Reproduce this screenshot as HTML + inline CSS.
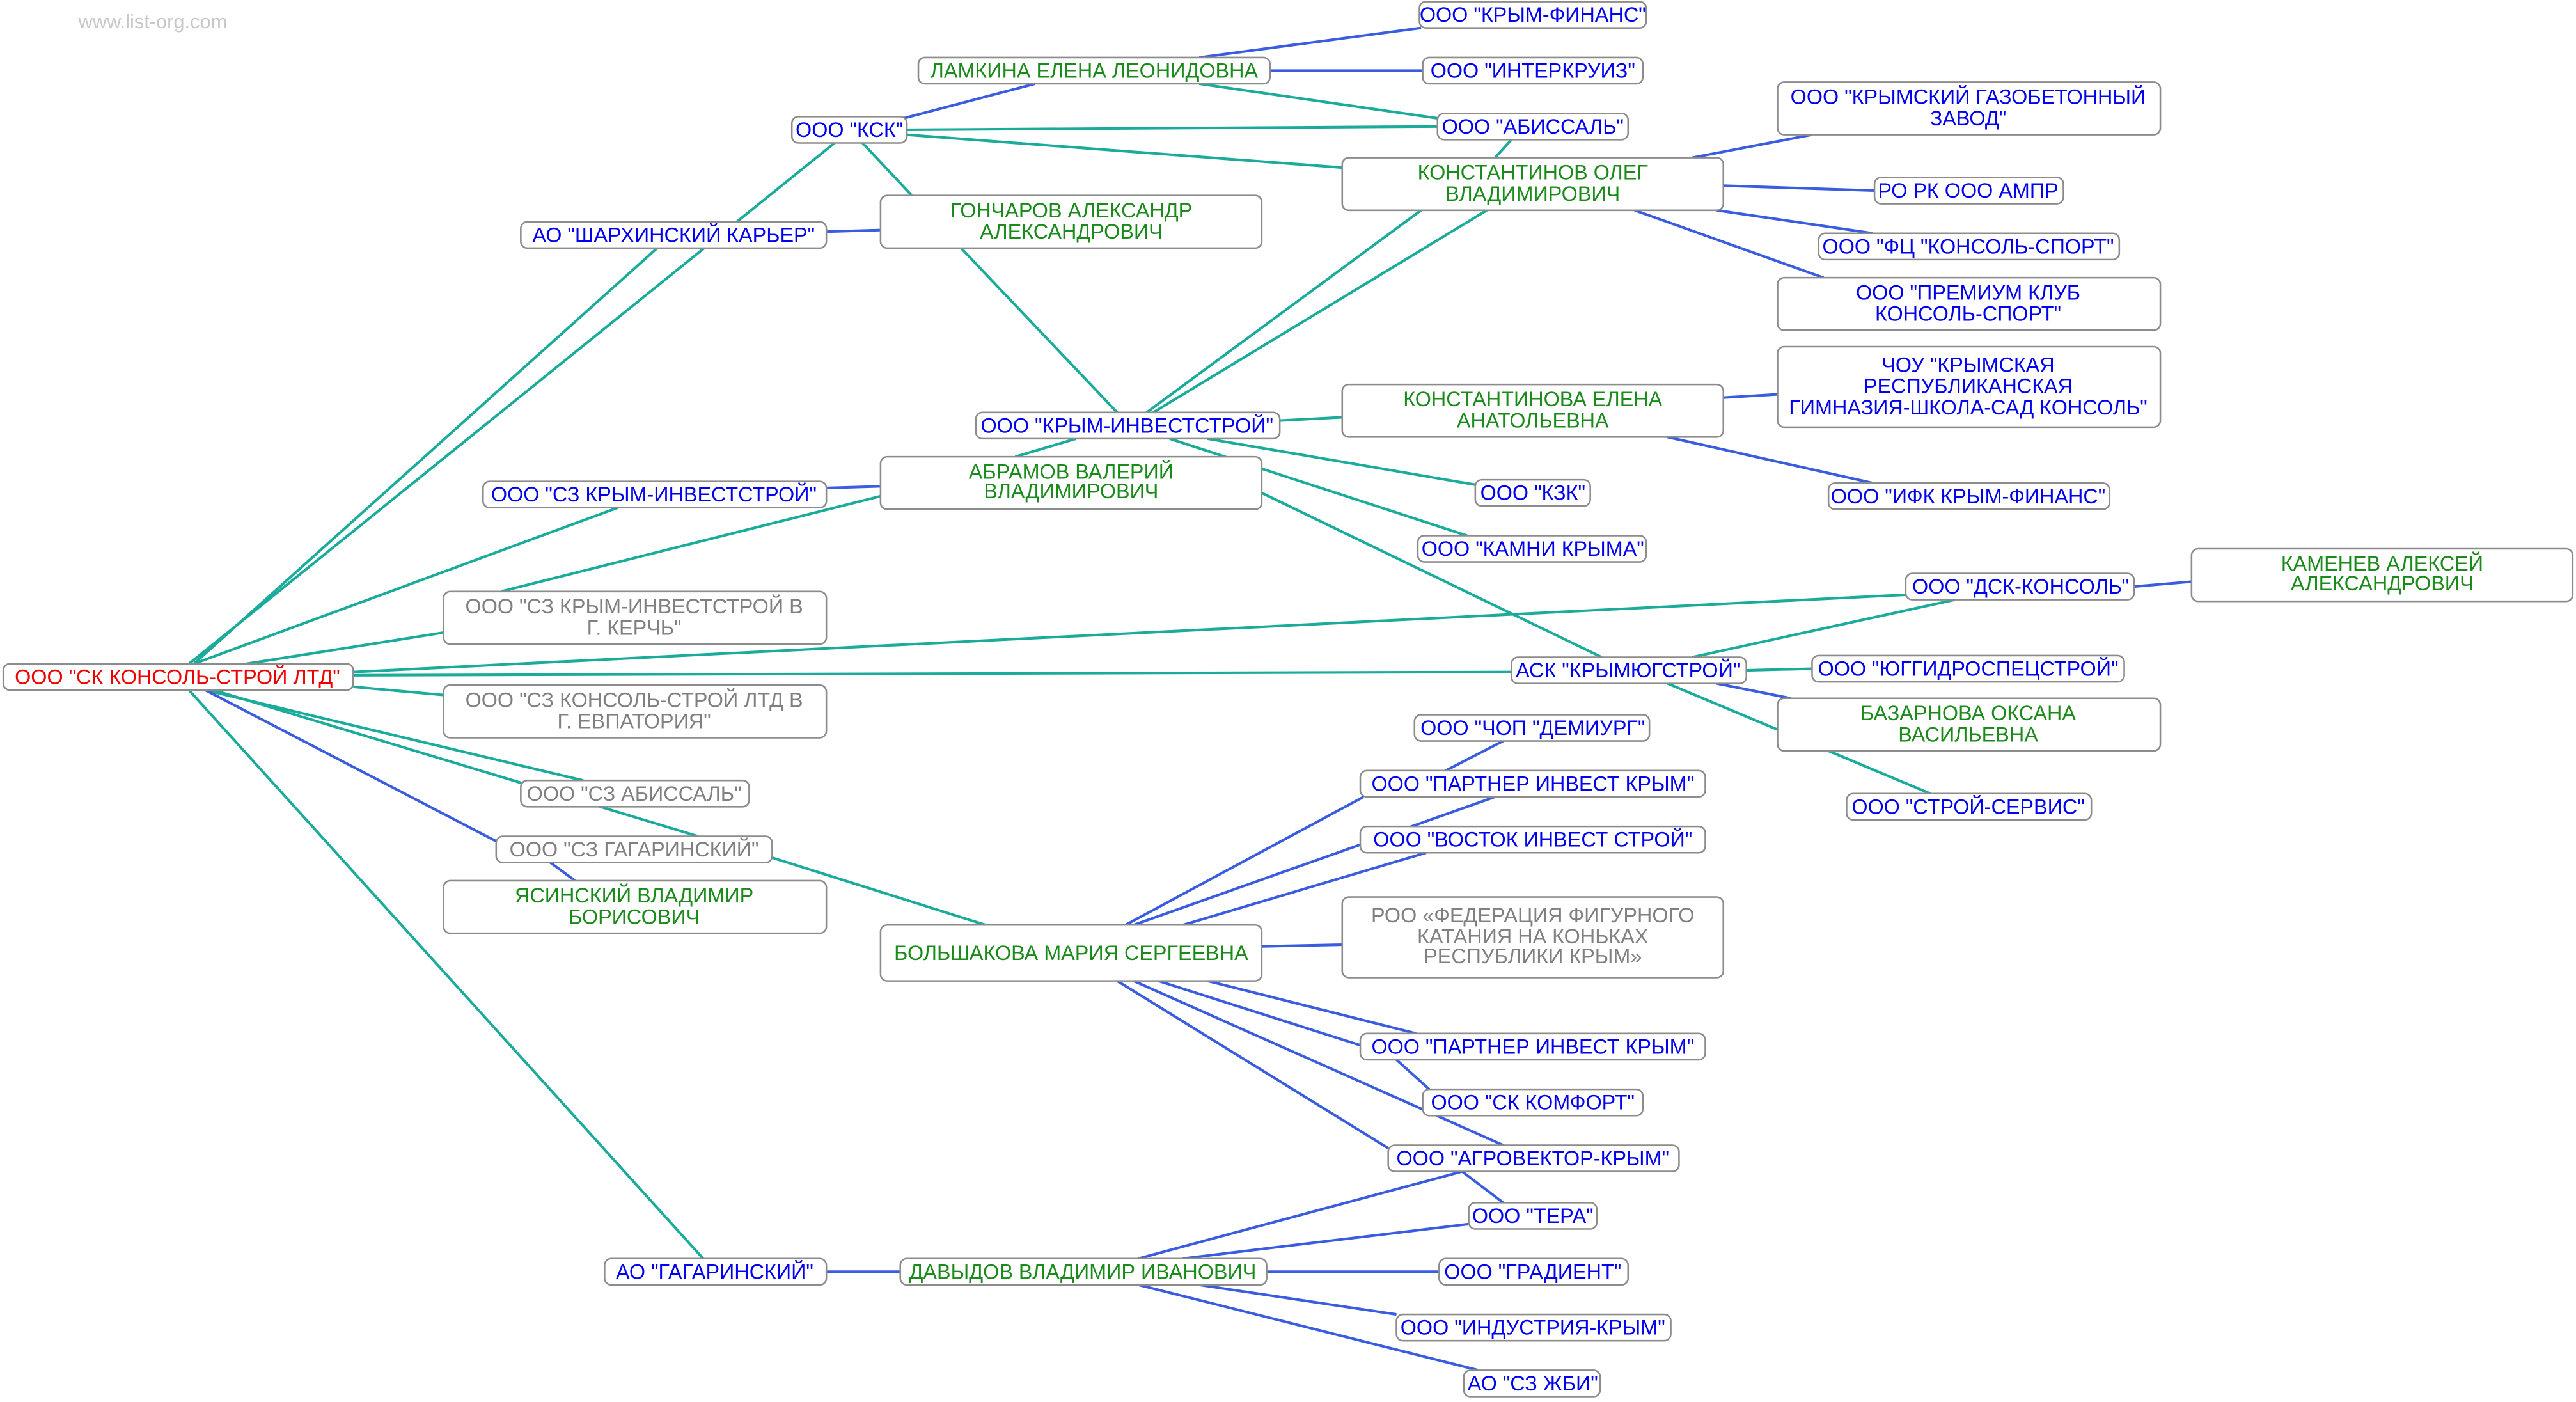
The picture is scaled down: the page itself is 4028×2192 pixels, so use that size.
<!DOCTYPE html>
<html><head><meta charset="utf-8"><style>
html,body{margin:0;padding:0;background:#fff}
svg{display:block}
text{font-family:"Liberation Sans",sans-serif;font-size:12.6px;text-anchor:middle;dominant-baseline:central}
.t{stroke:#1aab9b;stroke-width:1.6;fill:none}
.b{stroke:#3a5de0;stroke-width:1.6;fill:none}
rect{fill:#fff;stroke:#8c8c8c;stroke-width:1}
.g{fill:#1a8a1a}.u{fill:#0000ee}.r{fill:#ee0000}.y{fill:#808080}
</style></head><body>
<svg width="4028" height="2192" viewBox="0 0 1568 853.3" xmlns="http://www.w3.org/2000/svg">
<text x="93" y="13" style="fill:#c8c8c8;font-size:12px">www.list-org.com</text>
<g>
<line class="b" x1="730" y1="35" x2="865" y2="17"/>
<line class="b" x1="773" y1="43" x2="866" y2="43"/>
<line class="b" x1="550" y1="72" x2="630" y2="51"/>
<line class="t" x1="730" y1="51" x2="875" y2="72"/>
<line class="t" x1="552" y1="79" x2="875" y2="77"/>
<line class="t" x1="552" y1="82" x2="817" y2="102"/>
<line class="t" x1="920" y1="85" x2="910" y2="96"/>
<line class="b" x1="1030" y1="96" x2="1103" y2="82"/>
<line class="b" x1="1049" y1="113" x2="1141" y2="116"/>
<line class="b" x1="1045" y1="128" x2="1140" y2="142"/>
<line class="b" x1="995" y1="128" x2="1110" y2="169"/>
<line class="b" x1="503" y1="141" x2="536" y2="140"/>
<line class="t" x1="115" y1="404" x2="508" y2="87"/>
<line class="t" x1="118" y1="404" x2="400" y2="151"/>
<line class="t" x1="525" y1="87" x2="555" y2="119"/>
<line class="t" x1="585" y1="151" x2="680" y2="251"/>
<line class="t" x1="698" y1="251" x2="865" y2="128"/>
<line class="t" x1="702" y1="251" x2="905" y2="128"/>
<line class="t" x1="779" y1="256" x2="817" y2="254"/>
<line class="b" x1="1049" y1="242" x2="1082" y2="240"/>
<line class="b" x1="1015" y1="266" x2="1140" y2="294"/>
<line class="t" x1="655" y1="267" x2="618" y2="278"/>
<line class="t" x1="735" y1="267" x2="898" y2="295"/>
<line class="t" x1="712" y1="267" x2="893" y2="326"/>
<line class="t" x1="768" y1="300" x2="975" y2="400"/>
<line class="b" x1="503" y1="297" x2="536" y2="296"/>
<line class="t" x1="118" y1="404" x2="376" y2="309"/>
<line class="t" x1="305" y1="360" x2="536" y2="302"/>
<line class="t" x1="150" y1="404" x2="270" y2="385"/>
<line class="t" x1="215" y1="409" x2="1160" y2="362"/>
<line class="b" x1="1299" y1="357" x2="1334" y2="354"/>
<line class="t" x1="215" y1="411" x2="920" y2="409"/>
<line class="t" x1="1030" y1="400" x2="1190" y2="365"/>
<line class="t" x1="1063" y1="408" x2="1103" y2="407"/>
<line class="b" x1="1045" y1="416" x2="1090" y2="425"/>
<line class="t" x1="1015" y1="416" x2="1175" y2="483"/>
<line class="t" x1="215" y1="418" x2="270" y2="423"/>
<line class="t" x1="125" y1="420" x2="355" y2="475"/>
<line class="b" x1="125" y1="420" x2="302" y2="512"/>
<line class="t" x1="130" y1="420" x2="425" y2="509"/>
<line class="t" x1="470" y1="522" x2="600" y2="563"/>
<line class="b" x1="335" y1="525" x2="350" y2="536"/>
<line class="t" x1="115" y1="420" x2="428" y2="766"/>
<line class="b" x1="503" y1="774" x2="548" y2="774"/>
<line class="b" x1="915" y1="451" x2="880" y2="469"/>
<line class="b" x1="685" y1="563" x2="830" y2="485"/>
<line class="b" x1="690" y1="563" x2="910" y2="485"/>
<line class="b" x1="720" y1="563" x2="868" y2="519"/>
<line class="b" x1="768" y1="576" x2="817" y2="575"/>
<line class="b" x1="735" y1="597" x2="862" y2="629"/>
<line class="b" x1="705" y1="597" x2="840" y2="640"/>
<line class="b" x1="850" y1="645" x2="870" y2="663"/>
<line class="b" x1="690" y1="597" x2="915" y2="697"/>
<line class="b" x1="680" y1="597" x2="855" y2="705"/>
<line class="b" x1="890" y1="713" x2="693" y2="766"/>
<line class="b" x1="890" y1="713" x2="915" y2="732"/>
<line class="b" x1="720" y1="766" x2="894" y2="745"/>
<line class="b" x1="771" y1="774" x2="876" y2="774"/>
<line class="b" x1="730" y1="782" x2="850" y2="800"/>
<line class="b" x1="693" y1="782" x2="900" y2="834"/>
</g>
<g>
<rect x="864" y="1" width="138" height="16" rx="4"/><text class="u" x="933" y="9">ООО "КРЫМ-ФИНАНС"</text>
<rect x="559" y="35" width="214" height="16" rx="4"/><text class="g" x="666" y="43">ЛАМКИНА ЕЛЕНА ЛЕОНИДОВНА</text>
<rect x="866" y="35" width="134" height="16" rx="4"/><text class="u" x="933" y="43">ООО "ИНТЕРКРУИЗ"</text>
<rect x="482" y="71" width="70" height="16" rx="4"/><text class="u" x="517" y="79">ООО "КСК"</text>
<rect x="875" y="69" width="116" height="16" rx="4"/><text class="u" x="933" y="77">ООО "АБИССАЛЬ"</text>
<rect x="1082" y="50" width="233" height="32" rx="4"/><text class="u" x="1198" y="59">ООО "КРЫМСКИЙ ГАЗОБЕТОННЫЙ</text><text class="u" x="1198" y="72">ЗАВОД"</text>
<rect x="817" y="96" width="232" height="32" rx="4"/><text class="g" x="933" y="105">КОНСТАНТИНОВ ОЛЕГ</text><text class="g" x="933" y="118">ВЛАДИМИРОВИЧ</text>
<rect x="1141" y="108" width="115" height="16" rx="4"/><text class="u" x="1198" y="116">РО РК ООО АМПР</text>
<rect x="317" y="135" width="186" height="16" rx="4"/><text class="u" x="410" y="143">АО "ШАРХИНСКИЙ КАРЬЕР"</text>
<rect x="536" y="119" width="232" height="32" rx="4"/><text class="g" x="652" y="128">ГОНЧАРОВ АЛЕКСАНДР</text><text class="g" x="652" y="141">АЛЕКСАНДРОВИЧ</text>
<rect x="1107" y="142" width="183" height="16" rx="4"/><text class="u" x="1198" y="150">ООО "ФЦ "КОНСОЛЬ-СПОРТ"</text>
<rect x="1082" y="169" width="233" height="32" rx="4"/><text class="u" x="1198" y="178">ООО "ПРЕМИУМ КЛУБ</text><text class="u" x="1198" y="191">КОНСОЛЬ-СПОРТ"</text>
<rect x="1082" y="211" width="233" height="49" rx="4"/><text class="u" x="1198" y="222">ЧОУ "КРЫМСКАЯ</text><text class="u" x="1198" y="235">РЕСПУБЛИКАНСКАЯ</text><text class="u" x="1198" y="248">ГИМНАЗИЯ-ШКОЛА-САД КОНСОЛЬ"</text>
<rect x="817" y="234" width="232" height="32" rx="4"/><text class="g" x="933" y="243">КОНСТАНТИНОВА ЕЛЕНА</text><text class="g" x="933" y="256">АНАТОЛЬЕВНА</text>
<rect x="594" y="251" width="185" height="16" rx="4"/><text class="u" x="686" y="259">ООО "КРЫМ-ИНВЕСТСТРОЙ"</text>
<rect x="536" y="278" width="232" height="32" rx="4"/><text class="g" x="652" y="287">АБРАМОВ ВАЛЕРИЙ</text><text class="g" x="652" y="299">ВЛАДИМИРОВИЧ</text>
<rect x="294" y="293" width="209" height="16" rx="4"/><text class="u" x="398" y="301">ООО "СЗ КРЫМ-ИНВЕСТСТРОЙ"</text>
<rect x="898" y="292" width="70" height="16" rx="4"/><text class="u" x="933" y="300">ООО "КЗК"</text>
<rect x="1113" y="294" width="171" height="16" rx="4"/><text class="u" x="1198" y="302">ООО "ИФК КРЫМ-ФИНАНС"</text>
<rect x="863" y="326" width="139" height="16" rx="4"/><text class="u" x="933" y="334">ООО "КАМНИ КРЫМА"</text>
<rect x="1334" y="334" width="232" height="32" rx="4"/><text class="g" x="1450" y="343">КАМЕНЕВ АЛЕКСЕЙ</text><text class="g" x="1450" y="355">АЛЕКСАНДРОВИЧ</text>
<rect x="1160" y="349" width="139" height="16" rx="4"/><text class="u" x="1230" y="357">ООО "ДСК-КОНСОЛЬ"</text>
<rect x="270" y="360" width="233" height="32" rx="4"/><text class="y" x="386" y="369">ООО "СЗ КРЫМ-ИНВЕСТСТРОЙ В</text><text class="y" x="386" y="382">Г. КЕРЧЬ"</text>
<rect x="2" y="404" width="213" height="16" rx="4"/><text class="r" x="108" y="412">ООО "СК КОНСОЛЬ-СТРОЙ ЛТД"</text>
<rect x="920" y="400" width="143" height="16" rx="4"/><text class="u" x="991" y="408">АСК "КРЫМЮГСТРОЙ"</text>
<rect x="1103" y="399" width="190" height="16" rx="4"/><text class="u" x="1198" y="407">ООО "ЮГГИДРОСПЕЦСТРОЙ"</text>
<rect x="270" y="417" width="233" height="32" rx="4"/><text class="y" x="386" y="426">ООО "СЗ КОНСОЛЬ-СТРОЙ ЛТД В</text><text class="y" x="386" y="439">Г. ЕВПАТОРИЯ"</text>
<rect x="1082" y="425" width="233" height="32" rx="4"/><text class="g" x="1198" y="434">БАЗАРНОВА ОКСАНА</text><text class="g" x="1198" y="447">ВАСИЛЬЕВНА</text>
<rect x="861" y="435" width="143" height="16" rx="4"/><text class="u" x="933" y="443">ООО "ЧОП "ДЕМИУРГ"</text>
<rect x="317" y="475" width="139" height="16" rx="4"/><text class="y" x="386" y="483">ООО "СЗ АБИССАЛЬ"</text>
<rect x="828" y="469" width="210" height="16" rx="4"/><text class="u" x="933" y="477">ООО "ПАРТНЕР ИНВЕСТ КРЫМ"</text>
<rect x="1124" y="483" width="149" height="16" rx="4"/><text class="u" x="1198" y="491">ООО "СТРОЙ-СЕРВИС"</text>
<rect x="302" y="509" width="168" height="16" rx="4"/><text class="y" x="386" y="517">ООО "СЗ ГАГАРИНСКИЙ"</text>
<rect x="828" y="503" width="210" height="16" rx="4"/><text class="u" x="933" y="511">ООО "ВОСТОК ИНВЕСТ СТРОЙ"</text>
<rect x="270" y="536" width="233" height="32" rx="4"/><text class="g" x="386" y="545">ЯСИНСКИЙ ВЛАДИМИР</text><text class="g" x="386" y="558">БОРИСОВИЧ</text>
<rect x="817" y="546" width="232" height="49" rx="4"/><text class="y" x="933" y="557">РОО «ФЕДЕРАЦИЯ ФИГУРНОГО</text><text class="y" x="933" y="570">КАТАНИЯ НА КОНЬКАХ</text><text class="y" x="933" y="582">РЕСПУБЛИКИ КРЫМ»</text>
<rect x="536" y="563" width="232" height="34" rx="4"/><text class="g" x="652" y="580">БОЛЬШАКОВА МАРИЯ СЕРГЕЕВНА</text>
<rect x="828" y="629" width="210" height="16" rx="4"/><text class="u" x="933" y="637">ООО "ПАРТНЕР ИНВЕСТ КРЫМ"</text>
<rect x="866" y="663" width="134" height="16" rx="4"/><text class="u" x="933" y="671">ООО "СК КОМФОРТ"</text>
<rect x="845" y="697" width="177" height="16" rx="4"/><text class="u" x="933" y="705">ООО "АГРОВЕКТОР-КРЫМ"</text>
<rect x="894" y="732" width="78" height="16" rx="4"/><text class="u" x="933" y="740">ООО "ТЕРА"</text>
<rect x="368" y="766" width="135" height="16" rx="4"/><text class="u" x="435" y="774">АО "ГАГАРИНСКИЙ"</text>
<rect x="548" y="766" width="223" height="16" rx="4"/><text class="g" x="659" y="774">ДАВЫДОВ ВЛАДИМИР ИВАНОВИЧ</text>
<rect x="876" y="766" width="115" height="16" rx="4"/><text class="u" x="933" y="774">ООО "ГРАДИЕНТ"</text>
<rect x="850" y="800" width="167" height="16" rx="4"/><text class="u" x="933" y="808">ООО "ИНДУСТРИЯ-КРЫМ"</text>
<rect x="891" y="834" width="83" height="16" rx="4"/><text class="u" x="933" y="842">АО "СЗ ЖБИ"</text>
</g>
</svg>
</body></html>
